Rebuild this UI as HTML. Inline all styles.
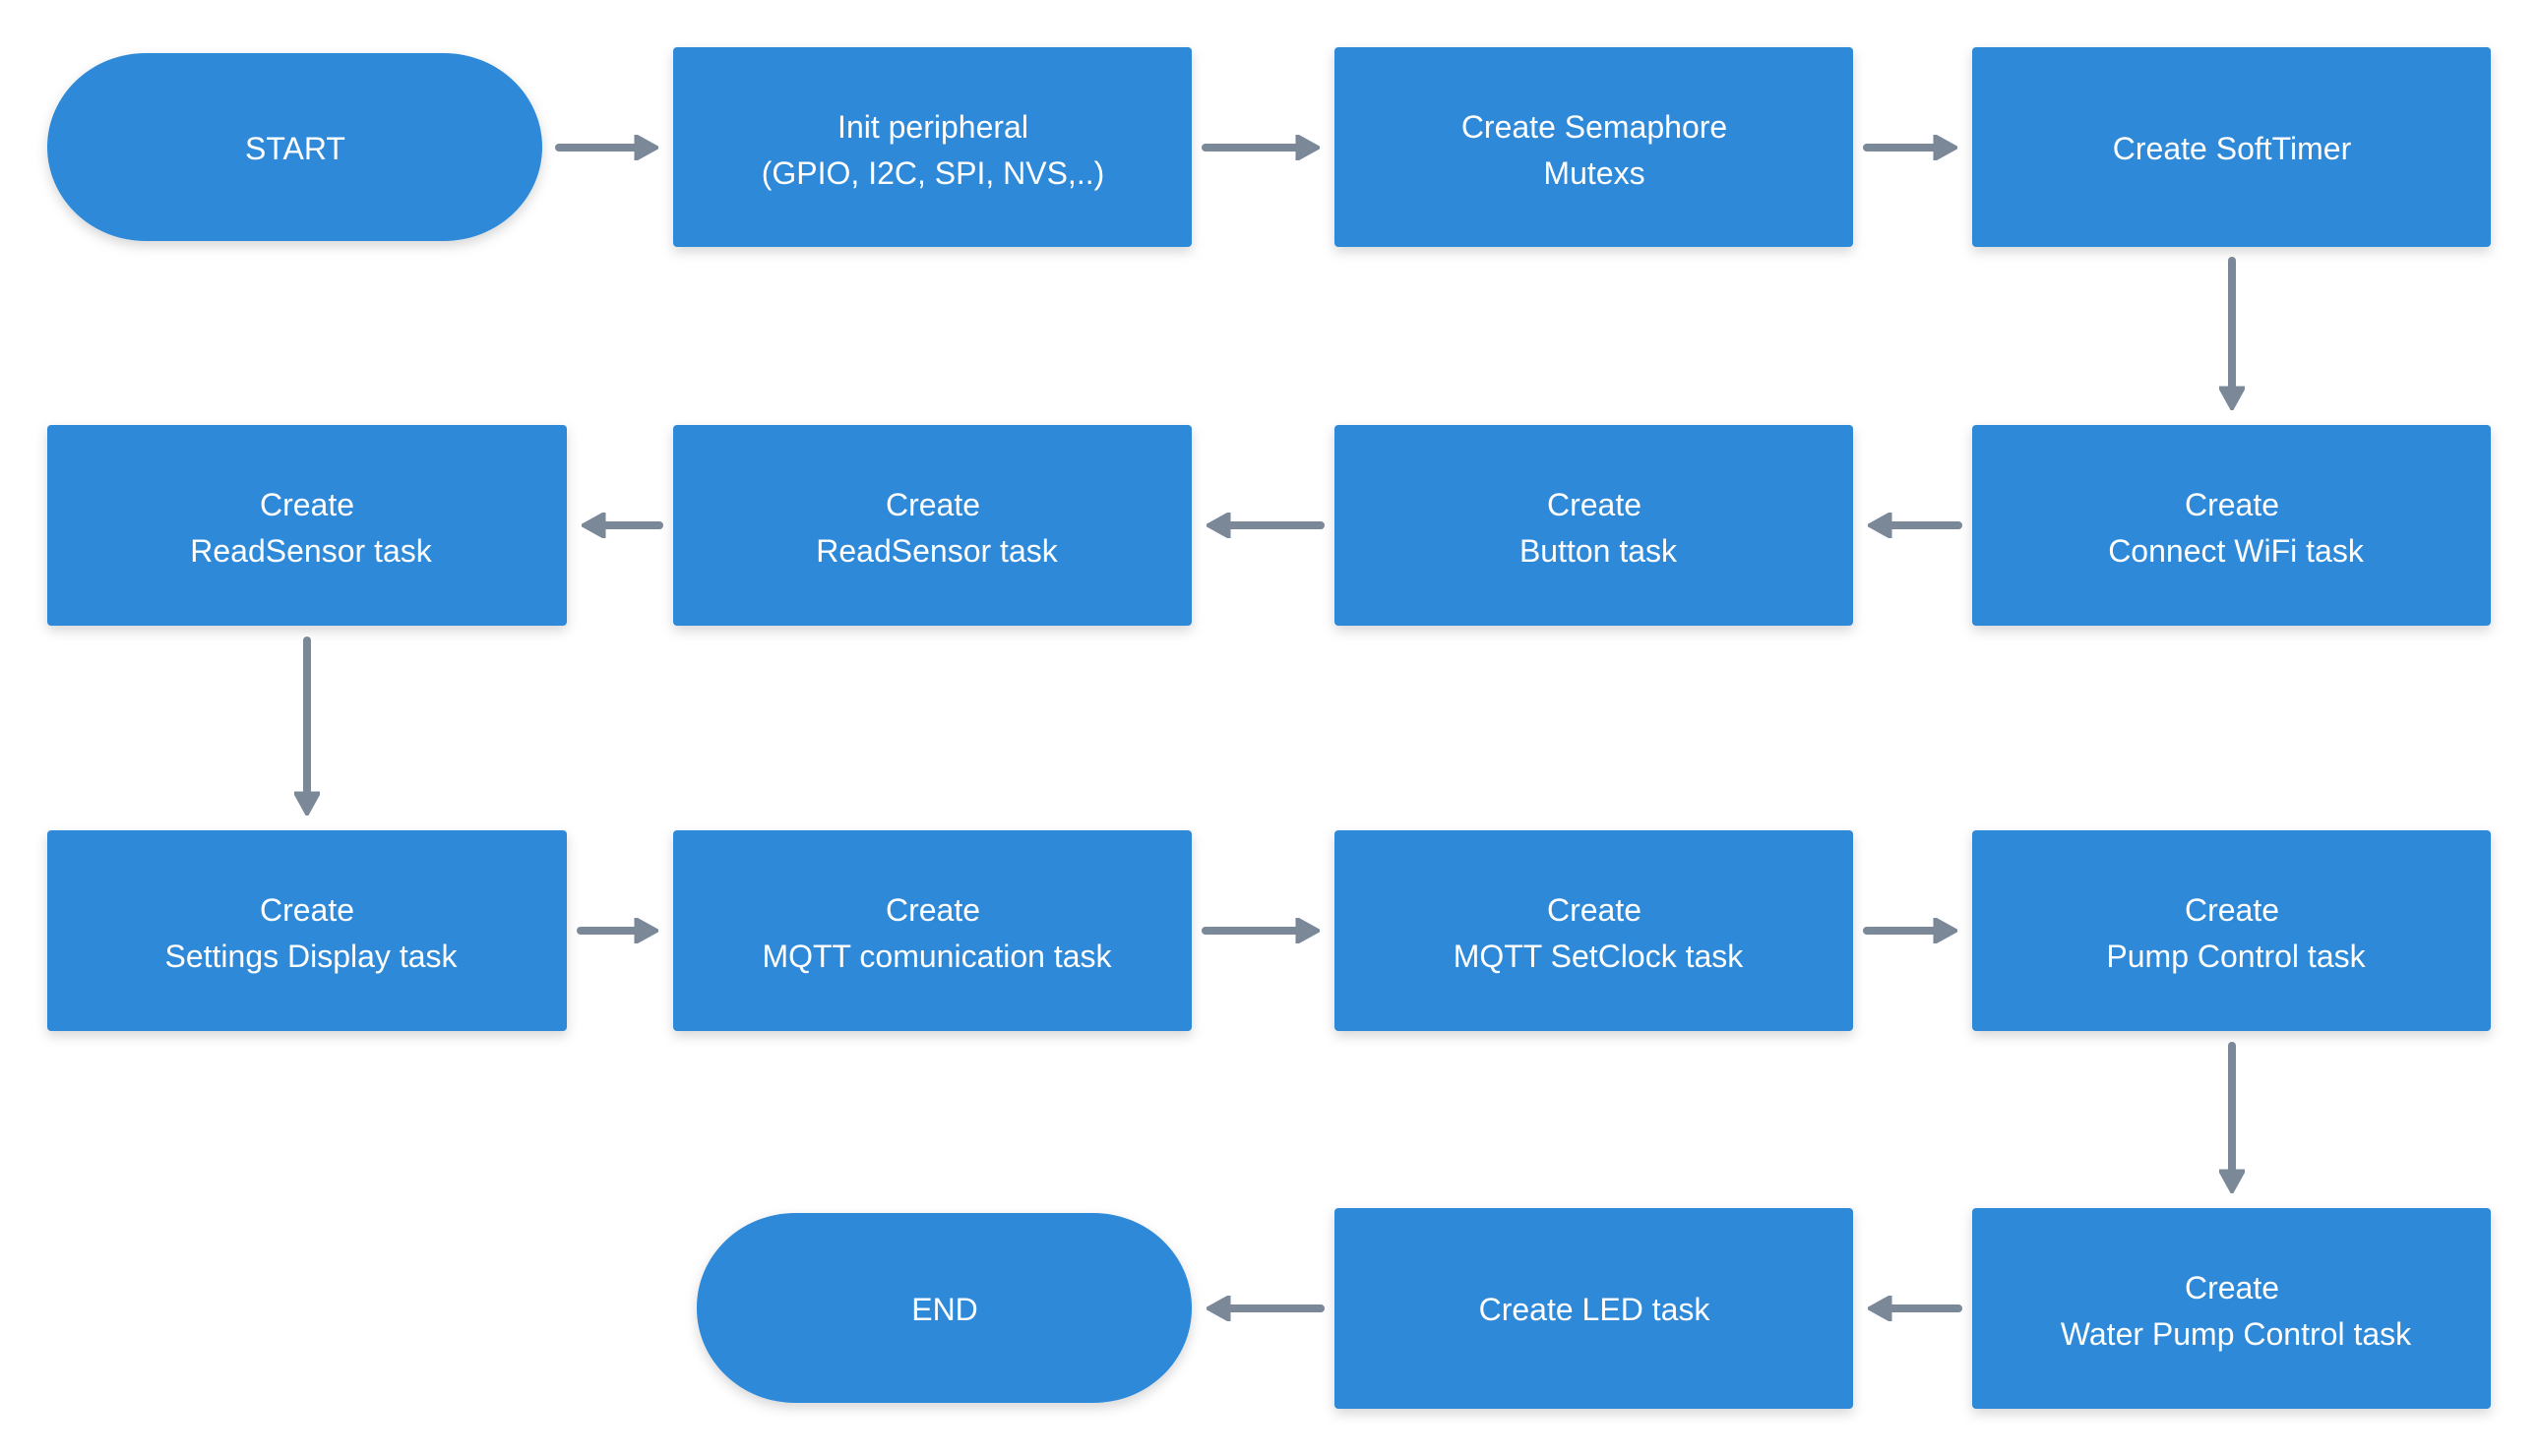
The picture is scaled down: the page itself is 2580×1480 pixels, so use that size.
<!DOCTYPE html>
<html><head><meta charset="utf-8"><style>
html,body{margin:0;padding:0;background:#fff;}
svg{display:block}
text{font-family:"Liberation Sans Narrow","Liberation Sans",sans-serif;font-size:32px;fill:#fff;text-anchor:middle;}
</style></head><body>
<svg width="2580" height="1480" viewBox="0 0 2580 1480" xmlns="http://www.w3.org/2000/svg">
<defs>
<filter id="sh" x="-10%" y="-10%" width="120%" height="130%">
<feDropShadow dx="0" dy="5" stdDeviation="6" flood-color="#000" flood-opacity="0.16"/>
</filter>
<marker id="ah" viewBox="0 0 10 10" refX="5" refY="5" markerWidth="3.2" markerHeight="3.2" orient="auto" markerUnits="strokeWidth">
<path d="M1,0 L10,5 L1,10 Z" fill="#7a8898" stroke="#7a8898" stroke-linejoin="round"/>
</marker>
</defs>
<g fill="#2e89d8" filter="url(#sh)">
<rect x="48" y="54" width="503" height="191" rx="100" ry="96"/>
<rect x="684" y="48" width="527" height="203" rx="4"/>
<rect x="1356" y="48" width="527" height="203" rx="4"/>
<rect x="2004" y="48" width="527" height="203" rx="4"/>
<rect x="48" y="432" width="528" height="204" rx="4"/>
<rect x="684" y="432" width="527" height="204" rx="4"/>
<rect x="1356" y="432" width="527" height="204" rx="4"/>
<rect x="2004" y="432" width="527" height="204" rx="4"/>
<rect x="48" y="844" width="528" height="204" rx="4"/>
<rect x="684" y="844" width="527" height="204" rx="4"/>
<rect x="1356" y="844" width="527" height="204" rx="4"/>
<rect x="2004" y="844" width="527" height="204" rx="4"/>
<rect x="708" y="1233" width="503" height="193" rx="100" ry="96"/>
<rect x="1356" y="1228" width="527" height="204" rx="4"/>
<rect x="2004" y="1228" width="527" height="204" rx="4"/>
</g>
<g stroke="#7a8898" stroke-width="8" stroke-linecap="round" fill="none" marker-end="url(#ah)">
<line x1="568" y1="150" x2="656" y2="150"/>
<line x1="1225" y1="150" x2="1328" y2="150"/>
<line x1="1897" y1="150" x2="1976" y2="150"/>
<line x1="2268" y1="265" x2="2268" y2="404"/>
<line x1="1990" y1="534" x2="1911" y2="534"/>
<line x1="1342" y1="534" x2="1239" y2="534"/>
<line x1="670" y1="534" x2="604" y2="534"/>
<line x1="312" y1="651" x2="312" y2="816"/>
<line x1="590" y1="946" x2="656" y2="946"/>
<line x1="1225" y1="946" x2="1328" y2="946"/>
<line x1="1897" y1="946" x2="1976" y2="946"/>
<line x1="2268" y1="1063" x2="2268" y2="1200"/>
<line x1="1990" y1="1330" x2="1911" y2="1330"/>
<line x1="1342" y1="1330" x2="1239" y2="1330"/>
</g>
<text x="300" y="162">START</text>
<text x="948" y="140">Init peripheral</text>
<text x="948" y="187">(GPIO, I2C, SPI, NVS,..)</text>
<text x="1620" y="140">Create Semaphore</text>
<text x="1620" y="187">Mutexs</text>
<text x="2268" y="162">Create SoftTimer</text>
<text x="312" y="524">Create</text>
<text x="316" y="571">ReadSensor task</text>
<text x="948" y="524">Create</text>
<text x="952" y="571">ReadSensor task</text>
<text x="1620" y="524">Create</text>
<text x="1624" y="571">Button task</text>
<text x="2268" y="524">Create</text>
<text x="2272" y="571">Connect WiFi task</text>
<text x="312" y="936">Create</text>
<text x="316" y="983">Settings Display task</text>
<text x="948" y="936">Create</text>
<text x="952" y="983">MQTT comunication task</text>
<text x="1620" y="936">Create</text>
<text x="1624" y="983">MQTT SetClock task</text>
<text x="2268" y="936">Create</text>
<text x="2272" y="983">Pump Control task</text>
<text x="960" y="1342">END</text>
<text x="1620" y="1342">Create LED task</text>
<text x="2268" y="1320">Create</text>
<text x="2272" y="1367">Water Pump Control task</text>
</svg>
</body></html>
